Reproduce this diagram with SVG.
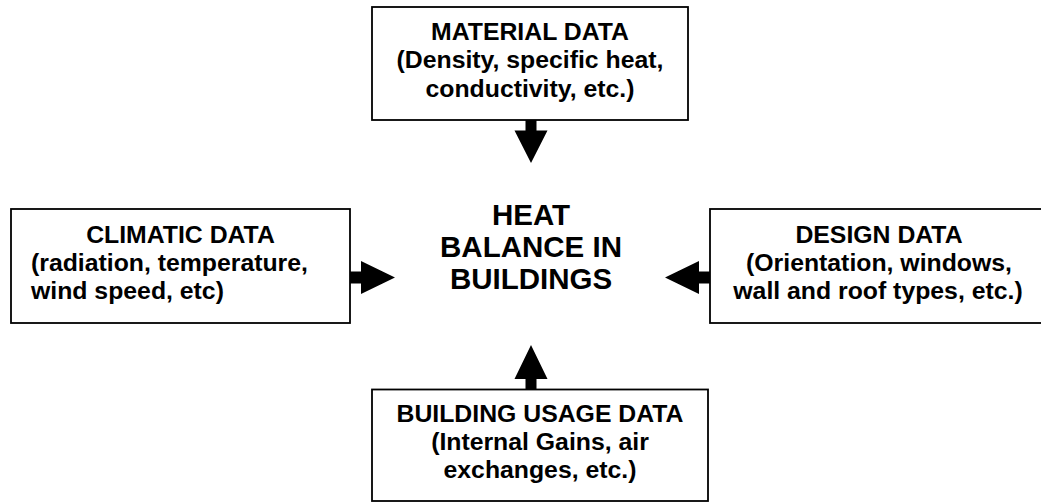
<svg xmlns="http://www.w3.org/2000/svg" width="1041" height="502" viewBox="0 0 1041 502">
  <style>
    .box { fill: #ffffff; stroke: #000000; stroke-width: 1.8; }
    .t { font-family: "Liberation Sans", Arial, sans-serif; font-weight: bold; font-size: 24.8px; fill: #000000; }
    .c { text-anchor: middle; }
    .big { font-family: "Liberation Sans", Arial, sans-serif; font-weight: bold; font-size: 29.5px; fill: #000000; text-anchor: middle; }
    .arrow { fill: #000000; stroke: none; }
  </style>
  <rect x="0" y="0" width="1041" height="502" fill="#ffffff"/>

  <g id="material">
    <rect class="box" x="372" y="7" width="316" height="113"/>
    <text class="t c" x="530" y="40">MATERIAL DATA</text>
    <text class="t c" x="530" y="68">(Density, specific heat,</text>
    <text class="t c" x="530" y="96.5">conductivity, etc.)</text>
  </g>

  <g id="climatic">
    <rect class="box" x="11" y="209" width="339" height="114"/>
    <text class="t c" x="180.5" y="242.5">CLIMATIC DATA</text>
    <text class="t" x="31" y="271">(radiation, temperature,</text>
    <text class="t" x="31" y="299">wind speed, etc)</text>
  </g>

  <g id="design">
    <rect class="box" x="710" y="209" width="340" height="114"/>
    <text class="t c" x="879" y="242.5">DESIGN DATA</text>
    <text class="t c" x="879" y="271">(Orientation, windows,</text>
    <text class="t c" x="878" y="299">wall and roof types, etc.)</text>
  </g>

  <g id="usage">
    <rect class="box" x="372" y="389.5" width="336" height="111.5"/>
    <text class="t c" x="540" y="421.5">BUILDING USAGE DATA</text>
    <text class="t c" x="540" y="450">(Internal Gains, air</text>
    <text class="t c" x="540" y="478">exchanges, etc.)</text>
  </g>

  <g id="center">
    <text class="big" x="531" y="225">HEAT</text>
    <text class="big" x="531" y="257">BALANCE IN</text>
    <text class="big" x="531" y="288.5">BUILDINGS</text>
  </g>

  <g id="connectors">
    <polygon class="arrow" points="525.5,120 536.5,120 536.5,130.5 547.5,130.5 531,163 514.5,130.5 525.5,130.5"/>
    <polygon class="arrow" points="525.5,389.5 536.5,389.5 536.5,379 547.5,379 531,345 514.5,379 525.5,379"/>
    <polygon class="arrow" points="350,271.5 361,271.5 361,261 395,277.5 361,294 361,283.5 350,283.5"/>
    <polygon class="arrow" points="710,271.5 699,271.5 699,261 665,277.5 699,294 699,283.5 710,283.5"/>
  </g>
</svg>
